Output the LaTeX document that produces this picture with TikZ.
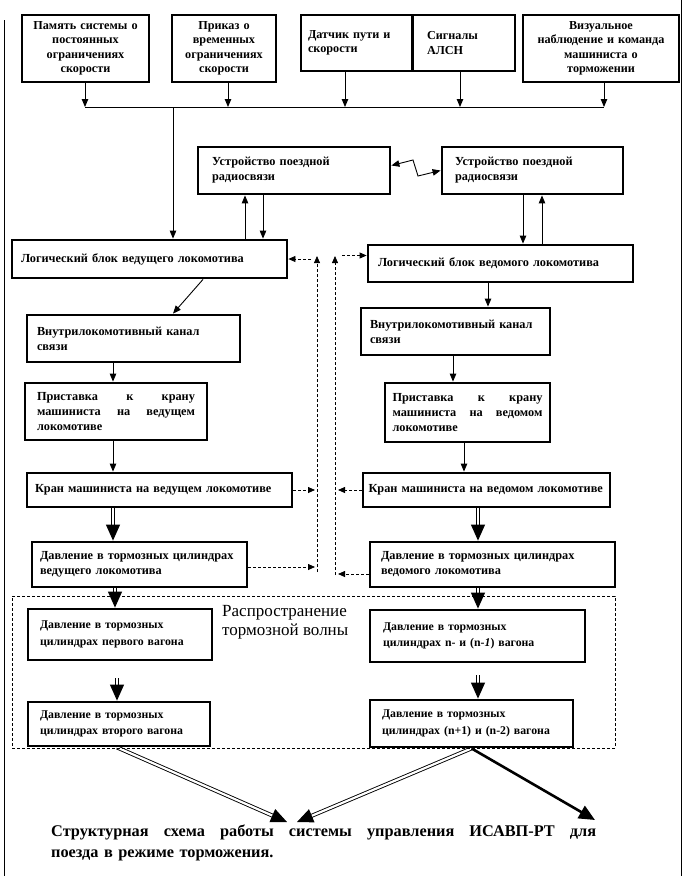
\documentclass[tikz,border=0pt]{standalone}
\usepackage{fontspec}
\setmainfont{Liberation Serif}
\usetikzlibrary{arrows.meta,backgrounds}
\begin{document}
\begin{tikzpicture}[x=1pt,y=-1pt,
  box/.style={draw, line width=2.8pt, inner ysep=2pt, align=left,
    font=\bfseries\fontsize{12.3}{15}\selectfont},
  cbox/.style={box, align=center, font=\bfseries\fontsize{12.2}{14.5}\selectfont},
  tbox/.style={box, font=\bfseries\fontsize{12.2}{14.5}\selectfont},
  sbox/.style={box, font=\bfseries\fontsize{11.8}{16.5}\selectfont},
  arr/.style={line width=0.9pt, -{Triangle[length=8pt,width=6.5pt]}},
  darr/.style={line width=0.8pt, dash pattern=on 3pt off 2pt, -{Triangle[length=7pt,width=6pt]}},
  dshaft/.style={double=white, double distance=2.2pt, line width=0.9pt, shorten >=13pt},
  dtip/.style={draw=white, line width=1pt, -{Triangle[length=16pt,width=14pt,color=black]}},
  ttip/.style={line width=2.6pt, -{Triangle[length=16pt,width=14pt]}},
  wavebox/.style={draw, dash pattern=on 3pt off 2pt, line width=0.7pt, inner sep=0pt},
]
\useasboundingbox (0,0) rectangle (688,876);

% page frame
\draw[line width=0.6pt] (4,20) -- (4,876);
\draw[line width=0.6pt] (681,0) -- (681,876);

% top row
\node[cbox, inner xsep=8pt, text width=111pt, minimum height=67pt] (t1) at (85.5,48.5)
  {Память системы о\\постоянных\\ограничениях\\скорости};
\node[cbox, inner xsep=5pt, text width=94pt, minimum height=67pt] (t2) at (224,48.5)
  {Приказ о\\временных\\ограничениях\\скорости};
\node[tbox, inner xsep=7pt, text width=97pt, minimum height=56pt] (t3) at (356.5,43)
  {Датчик пути и\\скорости\par\vspace*{16pt}};
\node[tbox, inner xsep=14pt, text width=74pt, minimum height=56pt] (t4) at (464,43)
  {Сигналы\\АЛСН\par\vspace*{16pt}};
\node[cbox, inner xsep=7pt, text width=142pt, minimum height=67pt] (t5) at (601,48.5)
  {Визуальное\\наблюдение и команда\\машиниста о\\торможении};

% radio
\node[box, inner xsep=14pt, text width=164pt, minimum height=47pt] (radioL) at (294,170.5)
  {Устройство поездной\\радиосвязи};
\node[box, inner xsep=13pt, text width=155pt, minimum height=47pt] (radioR) at (532.5,170.5)
  {Устройство поездной\\радиосвязи};

% logic blocks
\node[box, inner xsep=9pt, text width=257pt, minimum height=38pt] (logL) at (149.5,259)
  {Логический блок ведущего локомотива};
\node[box, inner xsep=10pt, text width=245pt, minimum height=37pt] (logR) at (500.5,263.5)
  {Логический блок ведомого локомотива};

% channel
\node[box, inner xsep=10pt, text width=193pt, minimum height=47pt] (chanL) at (133.5,338.5)
  {Внутрилокомотивный канал\\связи};
\node[box, inner xsep=9pt, text width=171pt, minimum height=47pt] (chanR) at (455.5,331.5)
  {Внутрилокомотивный канал\\связи};

% pristavka
\node[box, inner xsep=12pt, text width=158pt, minimum height=57pt] (prisL) at (116,411.5)
  {\makebox[158pt][s]{Приставка\hfill к\hfill крану}\\\makebox[158pt][s]{машиниста\hfill на\hfill ведущем}\\локомотиве};
\node[box, inner xsep=7.5pt, text width=150pt, minimum height=59pt] (prisR) at (467.5,412.5)
  {\makebox[150pt][s]{Приставка\hfill к\hfill крану}\\\makebox[150pt][s]{машиниста\hfill на\hfill ведомом}\\локомотиве};

% kran
\node[box, inner xsep=8pt, text width=249pt, minimum height=34pt] (kranL) at (159.5,490)
  {Кран машиниста на ведущем локомотиве};
\node[box, inner xsep=5.5pt, text width=236pt, minimum height=34pt] (kranR) at (486.5,490)
  {Кран машиниста на ведомом локомотиве};

% pressure loco
\node[box, inner xsep=8pt, text width=199pt, minimum height=45pt] (presL) at (139.5,564.5)
  {Давление в тормозных цилиндрах\\ведущего локомотива};
\node[box, inner xsep=11pt, text width=223pt, minimum height=45pt] (presR) at (492.5,564.5)
  {Давление в тормозных цилиндрах\\ведомого локомотива};

% wave region
\node[wavebox, minimum width=603pt, minimum height=152pt] (wave) at (313.5,672) {};
\node[anchor=north west, inner sep=0pt, align=left, font=\fontsize{17}{19.5}\selectfont] (wavetxt) at (222,605)
  {Распространение\\тормозной волны};

% cars
\node[sbox, inner xsep=12pt, text width=160pt, minimum height=51pt] (car1) at (120,634.5)
  {Давление в тормозных\\цилиндрах первого вагона};
\node[sbox, inner xsep=13pt, text width=189pt, minimum height=52pt] (carN) at (477.5,636)
  {Давление в тормозных\\цилиндрах n- и (n-\textit{1}) вагона};
\node[sbox, inner xsep=12pt, text width=158pt, minimum height=44pt] (car2) at (119,724)
  {Давление в тормозных\\цилиндрах второго вагона};
\node[sbox, inner xsep=12pt, text width=179pt, minimum height=47pt] (carN1) at (471.5,723.5)
  {Давление в тормозных\\цилиндрах (n+1) и (n-2) вагона};

% caption
\node[anchor=north west, inner sep=0pt, align=left, text width=545pt,
  font=\bfseries\fontsize{16.3}{21}\selectfont] (caption) at (51,825)
  {\makebox[545pt][s]{Структурная\hfill схема\hfill работы\hfill системы\hfill управления\hfill ИСАВП-РТ\hfill для}\\поезда в режиме торможения.};

% helper coordinates
\coordinate (b0) at (173,107);
\coordinate (b1) at (85,107);
\coordinate (b2) at (228,107);
\coordinate (b3) at (345,107);
\coordinate (b4) at (460,107);
\coordinate (b5) at (604,107);
\coordinate (ra) at (245,0);
\coordinate (rb) at (263,0);
\coordinate (rc) at (523,0);
\coordinate (rd) at (542,0);
\coordinate (z1) at (413,160);
\coordinate (z2) at (418,176);
\coordinate (lx) at (113,0);
\coordinate (cx) at (115,0);
\coordinate (rx1) at (488,0);
\coordinate (rx2) at (453,0);
\coordinate (rx3) at (464,0);
\coordinate (rx4) at (478,0);
\coordinate (c2top) at (117,678);
\coordinate (cN1top) at (478,675);
\coordinate (dlb) at (317,572);
\coordinate (dlt) at (317,256);
\coordinate (drb) at (335,575);
\coordinate (drt) at (335,256);
\coordinate (dls) at (311,259);
\coordinate (drs) at (342,255.5);
\coordinate (ldx) at (315,0);
\coordinate (rdx) at (338,0);
\coordinate (pl) at ([yshift=-2.5pt]presL.east);
\coordinate (pr) at ([yshift=-9.5pt]presR.west);
\coordinate (e1) at (287,822);
\coordinate (e2) at (297,822);
\coordinate (e3) at (595,820);
\coordinate (s1) at ([xshift=-2pt]car2.south);

\begin{scope}[on background layer]
% top bus
\draw[arr] (t1.south -| b1) -- (b1);
\draw[arr] (t2.south -| b2) -- (b2);
\draw[arr] (t3.south -| b3) -- (b3);
\draw[arr] (t4.south -| b4) -- (b4);
\draw[arr] (t5.south -| b5) -- (b5);
\draw[line width=0.9pt] (b1) -- (b5);
\draw[arr] (b0) -- (b0 |- logL.north);

% radio links
\draw[arr] (logL.north -| ra) -- (radioL.south -| ra);
\draw[arr] (radioL.south -| rb) -- (logL.north -| rb);
\draw[arr] (radioR.south -| rc) -- (logR.north -| rc);
\draw[arr] (logR.north -| rd) -- (radioR.south -| rd);
\draw[line width=0.9pt, {Triangle[length=8pt,width=6.5pt]}-{Triangle[length=8pt,width=6.5pt]}]
  ([yshift=5pt]radioL.east) -- (z1) -- (z2) -- (radioR.west);

% left chain
\draw[arr] ([xshift=53.5pt]logL.south) -- ([xshift=39.5pt]chanL.north);
\draw[arr] (chanL.south -| lx) -- (prisL.north -| lx);
\draw[arr] (prisL.south -| lx) -- (kranL.north -| lx);
\draw[dshaft] (kranL.south -| lx) -- (presL.north -| lx);
\draw[dtip] (kranL.south -| lx) -- (presL.north -| lx);
\draw[dshaft] (presL.south -| cx) -- (car1.north -| cx);
\draw[dtip] (presL.south -| cx) -- (car1.north -| cx);
\draw[dshaft] (c2top) -- (car2.north -| c2top);
\draw[dtip] (c2top) -- (car2.north -| c2top);

% right chain
\draw[arr] (logR.south -| rx1) -- (chanR.north -| rx1);
\draw[arr] (chanR.south -| rx2) -- (prisR.north -| rx2);
\draw[arr] (prisR.south -| rx3) -- (kranR.north -| rx3);
\draw[dshaft] (kranR.south -| rx4) -- (presR.north -| rx4);
\draw[dtip] (kranR.south -| rx4) -- (presR.north -| rx4);
\draw[dshaft] (presR.south -| rx4) -- (carN.north -| rx4);
\draw[dtip] (presR.south -| rx4) -- (carN.north -| rx4);
\draw[dshaft] (cN1top) -- (carN1.north -| cN1top);
\draw[dtip] (cN1top) -- (carN1.north -| cN1top);

% dashed feedback
\draw[darr] (dlb) -- (dlt);
\draw[darr] (drb) -- (drt);
\draw[darr] (dls) -- (logL.east);
\draw[darr] (drs) -- (logR.west |- drs);
\draw[darr] (kranL.east) -- (kranL.east -| ldx);
\draw[darr] (pl) -- (pl -| ldx);
\draw[darr] (kranR.west) -- (kranR.west -| rdx);
\draw[darr] (pr) -- (pr -| rdx);

% bottom arrows
\draw[dshaft] (s1) -- (e1);
\draw[dtip] (s1) -- (e1);
\draw[dshaft] (carN1.south) -- (e2);
\draw[dtip] (carN1.south) -- (e2);
\draw[ttip] (carN1.south) -- (e3);
\end{scope}
\end{tikzpicture}
\end{document}
